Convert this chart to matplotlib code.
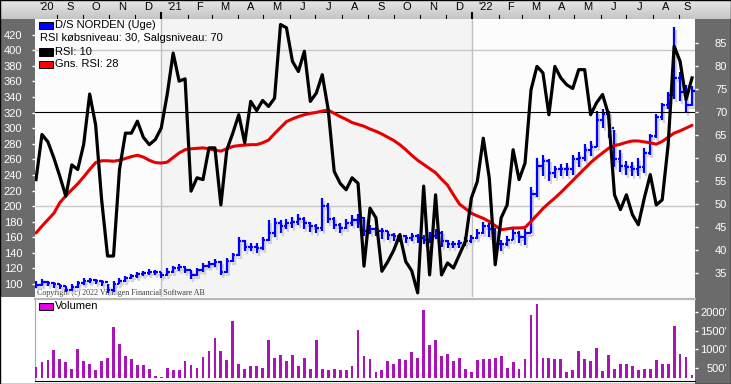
import numpy as np
import pandas as pd
import matplotlib
matplotlib.use('Agg')
import matplotlib.pyplot as plt
import matplotlib.dates as mdates
from matplotlib import transforms
from matplotlib.patches import Rectangle
from matplotlib.colors import LinearSegmentedColormap

# weekly data, D/S NORDEN
dates = pd.date_range('2020-08-07', periods=111, freq='7D')

close = [99, 103, 101, 100, 97, 92, 96, 101, 104, 105,
         104, 102, 92, 100, 104, 108, 110, 113, 114, 116,
         115, 112, 116, 120, 122, 118, 112, 118, 123, 126,
         128, 116, 130, 137, 155, 148, 148, 146, 157, 165,
         178, 174, 178, 180, 184, 178, 174, 172, 200, 184,
         176, 172, 178, 182, 185, 168, 170, 168, 168, 163,
         161, 161, 159, 161, 159, 157, 161, 166, 155, 151,
         151, 152, 155, 159, 166, 174, 170, 151, 151, 157,
         166, 160, 165, 215, 252, 258, 242, 248, 247, 248,
         260, 262, 272, 276, 310, 318, 300, 260, 252, 250,
         248, 250, 268, 290, 315, 330, 342, 365, 347, 330, 348]
high = [104, 106, 104, 102, 100, 97, 100, 104, 108, 108,
        107, 105, 100, 104, 108, 110, 113, 116, 117, 119,
        118, 116, 120, 123, 126, 123, 118, 121, 127, 130,
        132, 130, 133, 140, 160, 157, 153, 152, 160, 182,
        185, 182, 184, 186, 190, 186, 180, 177, 210, 204,
        186, 178, 184, 188, 190, 186, 176, 173, 172, 168,
        166, 166, 163, 165, 164, 163, 167, 170, 168, 156,
        155, 157, 160, 163, 171, 180, 178, 172, 157, 162,
        171, 168, 170, 225, 262, 266, 260, 252, 254, 255,
        266, 270, 280, 284, 322, 325, 322, 298, 272, 258,
        256, 262, 275, 292, 318, 332, 346, 430, 372, 356, 354]
low = [95, 97, 97, 95, 93, 90, 91, 95, 99, 101,
       100, 98, 89, 90, 100, 103, 106, 108, 110, 112,
       111, 108, 110, 114, 117, 114, 107, 110, 116, 120,
       122, 112, 114, 128, 136, 142, 142, 140, 144, 155,
       160, 166, 170, 172, 176, 170, 167, 165, 168, 178,
       170, 166, 170, 175, 172, 162, 164, 162, 158, 157,
       155, 154, 153, 155, 152, 151, 153, 158, 148, 146,
       146, 146, 149, 152, 158, 164, 160, 145, 142, 149,
       156, 152, 150, 165, 212, 238, 232, 236, 238, 238,
       240, 250, 258, 264, 276, 300, 288, 250, 244, 240,
       238, 238, 242, 265, 288, 310, 325, 338, 335, 320, 328]
rsi = [55.3, 65.1, 63.5, 60, 56, 51.7, 58.5, 57.5, 63, 73.9,
       67.2, 51, 38.7, 38.7, 57.5, 65.4, 65.4, 68, 64.5, 62.9,
       64, 66.5, 73.8, 82.8, 76.7, 77.2, 52.8, 55.7, 55.3, 62.2,
       62.2, 49.8, 61.8, 65.4, 69.4, 63.3, 72.3, 70.3, 72.5, 71.2,
       73, 89, 88.3, 81, 78.8, 83.2, 72.3, 74.1, 78.1, 70.5,
       57.1, 54.5, 53.1, 55.7, 54.5, 36.5, 49.1, 47, 35.4, 37.5,
       40, 43.3, 37.5, 35.5, 30.7, 53.9, 34.6, 52, 34.6, 37.2,
       36.1, 39, 41.9, 51.3, 54.9, 64.3, 55.7, 36.8, 47, 49.8,
       61.8, 55.3, 58.9, 74.8, 79.9, 78.5, 69.4, 79.9, 77.4, 75.9,
       75.1, 79.2, 79.2, 69.4, 72, 73.8, 69.4, 52, 48.8, 52,
       47.7, 45.5, 51.3, 56.4, 49.8, 50.9, 62.9, 84.3, 81, 72.7, 77.4]
rsi_avg = [43.7, 45.2, 46.6, 48, 50.3, 51.8, 53.1, 54.4, 55.9, 57.5,
           59, 59.4, 59.4, 59.3, 59.5, 59.9, 60.3, 60.6, 60.2, 59.5,
           59, 58.9, 59.1, 60.1, 61.1, 61.8, 62, 62.1, 62.2, 62,
           61.7, 61.5, 62, 62.5, 62.7, 62.8, 62.9, 62.9, 63.3, 63.9,
           65.3, 66.6, 67.9, 68.5, 69, 69.4, 69.7, 69.9, 70.2, 70.4,
           69.7, 69, 68.4, 67.7, 67.3, 66.9, 66.3, 65.8, 65.2, 64.5,
           63.8, 62.9, 61.8, 60.6, 59.5, 58.6, 57.7, 56.8, 55.4, 54.1,
           52, 50, 49, 48, 47.4, 46.9, 46.2, 45.3, 44.4, 44.6,
           44.8, 44.8, 44.9, 46.2, 47.6, 49, 50.2, 51.3, 52.5, 53.8,
           55.1, 56.4, 57.7, 59, 60.1, 61.1, 62.1, 62.7, 63, 63.4,
           63.7, 63.7, 63.5, 63.3, 63, 63.6, 64.5, 65.4, 65.9, 66.5, 67.1]
volume = [522, 657, 703, 973, 730, 657, 459, 1000, 684, 595,
          432, 676, 757, 1603, 1135, 811, 730, 568, 568, 477,
          270, 252, 505, 450, 432, 684, 568, 505, 784, 946,
          1297, 946, 703, 1757, 595, 459, 541, 541, 505, 1261,
          775, 838, 676, 838, 541, 775, 477, 1261, 477, 432,
          477, 432, 450, 541, 1514, 811, 730, 378, 432, 676,
          595, 748, 703, 928, 775, 2072, 1108, 1261, 811, 865,
          676, 775, 477, 378, 721, 730, 730, 775, 811, 505,
          657, 459, 730, 1919, 2216, 757, 775, 730, 730, 387,
          432, 946, 730, 676, 1045, 405, 838, 459, 613, 613,
          560, 432, 468, 477, 703, 613, 595, 1622, 865, 784, 297]

price_ticks = list(range(100, 421, 20))
rsi_ticks = list(range(35, 86, 5))
vol_ticks = [500, 1000, 1500, 2000]
vol_labels = ["500'", "1000'", "1500'", "2000'"]

W, H = 731, 384
plt.rcParams['font.family'] = ['Liberation Sans', 'DejaVu Sans']
fig = plt.figure(figsize=(W / 100, H / 100), dpi=100)


def rect(x0, y0, x1, y1):
    return [x0 / W, 1 - y1 / H, (x1 - x0) / W, (y1 - y0) / H]


def frect(x0, y0, x1, y1, color):
    fig.add_artist(Rectangle((x0 / W, 1 - y1 / H), (x1 - x0) / W, (y1 - y0) / H,
                             transform=fig.transFigure, facecolor=color,
                             edgecolor='none', zorder=-5))


# dark side bands
frect(0, 19, 35, 297, '#6b6b6b')
frect(695, 19, W, H, '#6b6b6b')

# top strip with gradient
axs = fig.add_axes(rect(0, 0, W, 19), zorder=-4)
cm = LinearSegmentedColormap.from_list('strip', ['#e6e6e6', '#c6c6c6'])
axs.imshow(np.linspace(0, 1, 19)[:, None], cmap=cm, aspect='auto', extent=[0, 1, 0, 1])
axs.set_axis_off()

x = mdates.date2num(dates.to_pydatetime())
x0 = mdates.date2num(pd.Timestamp('2020-08-05 20:00'))
x1 = mdates.date2num(pd.Timestamp('2022-09-19 12:00'))
y21 = mdates.date2num(pd.Timestamp('2021-01-01'))
y22 = mdates.date2num(pd.Timestamp('2022-01-01'))

# main price / RSI panel
ax = fig.add_axes(rect(35, 19, 695, 297))
ax.set_facecolor('#fcfcfc')
ax.axvspan(y21, y22, color='#f4f4f4', lw=0, zorder=0)
for v in (200, 400):
    ax.axhline(v, color='#c8c8c8', lw=1, zorder=1)
for v in (y21, y22):
    ax.axvline(v, color='#c0c0c0', lw=1, zorder=1)

ax.text(37 / W, 1 - 293 / H, 'Copyright (c) 2022 Vikingen Financial Software AB',
        transform=fig.transFigure, fontsize=5.8, family='Liberation Serif',
        color='#404040', va='center', ha='left', zorder=2)

prev = [close[0]] + close[:-1]
shadow = transforms.offset_copy(ax.transData, fig=fig, x=2, y=-3, units='dots')
tk = 3.0
for tr, col, z in [(shadow, '#d2d2da', 3), (ax.transData, '#0000ff', 4)]:
    ax.vlines(x, low, high, colors=col, lw=1.6, transform=tr, zorder=z)
    ax.hlines(close, x, x + tk, colors=col, lw=1.6, transform=tr, zorder=z)
    ax.hlines(prev, x - tk, x, colors=col, lw=1.6, transform=tr, zorder=z)

ax.set_xlim(x0, x1)
ax.set_ylim(83.3, 440.2)
ax.set_xticks([])
ax.set_yticks(price_ticks)
ax.tick_params(axis='y', colors='white', length=2.2, width=1, pad=7, labelsize=8)
for s in ax.spines.values():
    s.set_visible(False)

axr = ax.twinx()
axr.axhline(70, color='black', lw=0.8, zorder=2)
axr.plot(x, rsi_avg, color='#e60000', lw=2.2, zorder=3, solid_capstyle='round')
axr.plot(x, rsi, color='black', lw=2.3, zorder=4, solid_joinstyle='round')
axr.set_ylim(29.8, 90.2)
axr.set_yticks(rsi_ticks)
axr.tick_params(axis='y', colors='white', length=2.2, width=1, pad=21, labelsize=8)
for lab in axr.get_yticklabels():
    lab.set_horizontalalignment('right')
for s in axr.spines.values():
    s.set_visible(False)

# volume panel
axv = fig.add_axes(rect(35, 299, 695, 381))
axv.set_facecolor('white')
axv.bar(x, np.array(volume) - 220, bottom=220, width=3.3, color='#a914b4', zorder=3)
axv.set_xlim(x0, x1)
axv.set_ylim(141, 2361)
axv.set_xticks([])
axv.yaxis.tick_right()
axv.set_yticks(vol_ticks)
axv.set_yticklabels(vol_labels)
axv.tick_params(axis='y', colors='white', length=2.2, width=1, pad=21, labelsize=8)
for lab in axv.get_yticklabels():
    lab.set_horizontalalignment('right')
axv.spines['right'].set_visible(False)
axv.spines['top'].set_color('#b8b8b8')
axv.spines['top'].set_linewidth(1.6)
axv.spines['left'].set_color('#a8a8a8')
axv.spines['bottom'].set_color('black')

# month strip
axm = fig.add_axes(rect(35, 0, 695, 19))
axm.set_facecolor('none')
axm.set_xlim(x0, x1)
axm.set_ylim(19, 0)
axm.set_axis_off()
months = pd.date_range('2020-08-01', '2022-09-01', freq='MS')
letters = 'JFMAMJJASOND'
for k, m in enumerate(months):
    ms = mdates.date2num(m.to_pydatetime())
    me = mdates.date2num((m + pd.offsets.MonthBegin(1)).to_pydatetime())
    a, b = max(ms, x0), min(me, x1)
    lab = "'%02d" % (m.year % 100) if (k == 0 or m.month == 1) else letters[m.month - 1]
    axm.text((a + b) / 2, 6.5, lab, ha='center', va='center', fontsize=8, color='black')
    if ms > x0:
        if m.month == 1:
            axm.plot([ms, ms], [12.5, 19], color='black', lw=1.5)
        else:
            axm.plot([ms, ms], [15, 18], color='black', lw=0.8)

# legends
def swatch(px, py, color):
    fig.add_artist(Rectangle((px / W, 1 - (py + 4) / H), 14 / W, 7.5 / H,
                             transform=fig.transFigure, facecolor=color,
                             edgecolor='black', lw=0.7, zorder=6))


swatch(39, 25, '#0000ff')
fig.text(55 / W, 1 - 25 / H, 'D/S NORDEN (Uge)', fontsize=8, va='center', ha='left')
fig.text(39.5 / W, 1 - 38.3 / H, 'RSI købsniveau: 30, Salgsniveau: 70', fontsize=8,
         va='center', ha='left')
swatch(39, 51.7, 'black')
fig.text(55 / W, 1 - 51.7 / H, 'RSI: 10', fontsize=8, va='center', ha='left')
swatch(39, 64, '#ff0000')
fig.text(55 / W, 1 - 64 / H, 'Gns. RSI: 28', fontsize=8, va='center', ha='left')
swatch(39, 306, '#e400e4')
fig.text(55 / W, 1 - 306 / H, 'Volumen', fontsize=8, va='center', ha='left')

fig.add_artist(Rectangle((0, 0), 1, 1, transform=fig.transFigure, fill=False,
                         edgecolor='black', lw=1, zorder=10))

fig.savefig('out.png', dpi=100)
